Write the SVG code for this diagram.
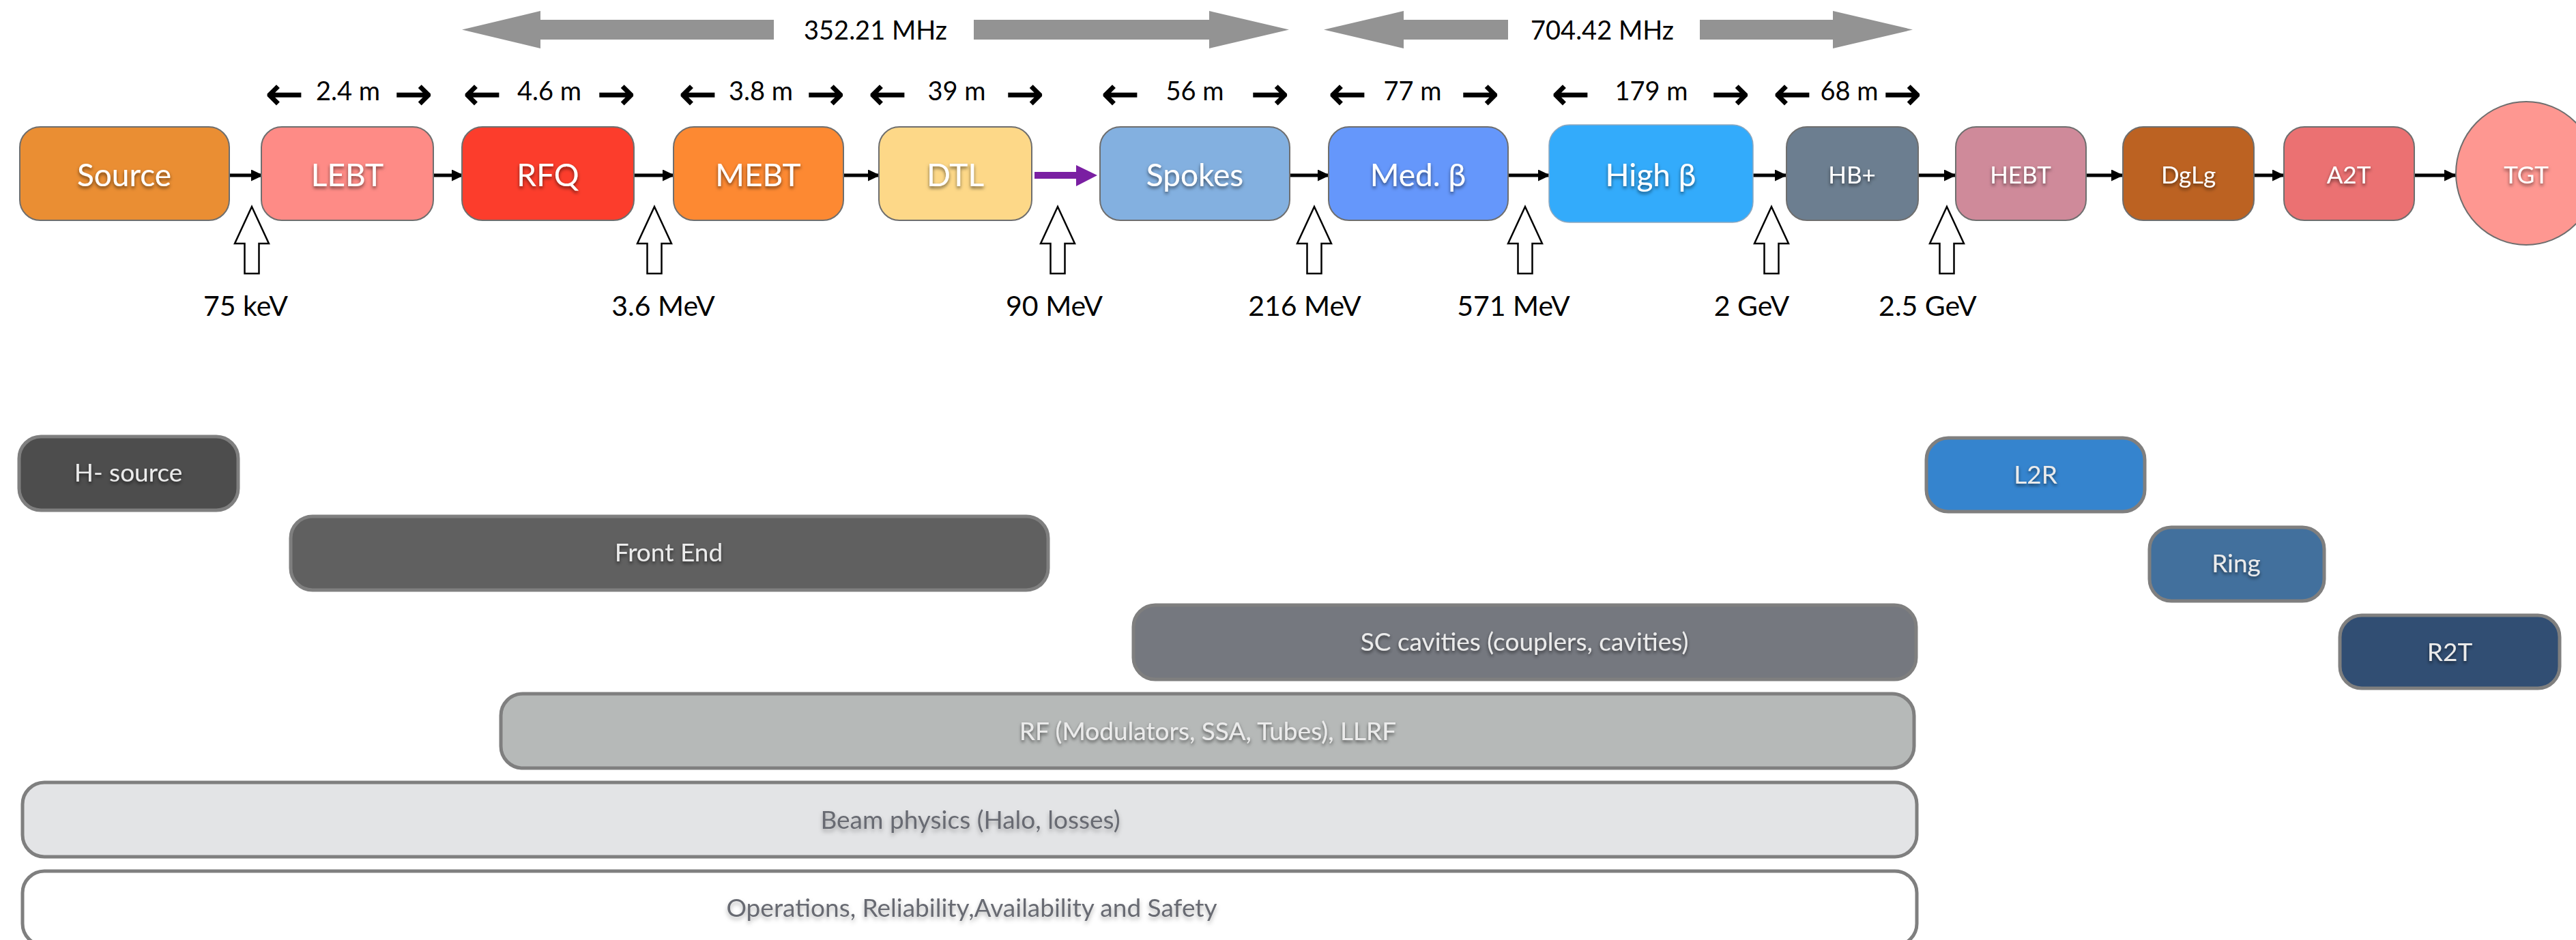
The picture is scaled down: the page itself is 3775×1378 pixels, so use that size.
<svg xmlns="http://www.w3.org/2000/svg" width="3775" height="1378" viewBox="0 0 3775 1378">
  <defs>
    <filter id="shadow" x="-20%" y="-40%" width="140%" height="190%">
      <feGaussianBlur in="SourceAlpha" stdDeviation="2.5"/>
      <feOffset dx="0" dy="3" result="off"/>
      <feFlood flood-color="#000" flood-opacity="0.55"/>
      <feComposite in2="off" operator="in"/>
      <feMerge><feMergeNode/><feMergeNode in="SourceGraphic"/></feMerge>
    </filter>
    <filter id="softshadow" x="-20%" y="-40%" width="140%" height="190%">
      <feGaussianBlur in="SourceAlpha" stdDeviation="3"/>
      <feOffset dx="0" dy="4" result="off"/>
      <feFlood flood-color="#000" flood-opacity="0.3"/>
      <feComposite in2="off" operator="in"/>
      <feMerge><feMergeNode/><feMergeNode in="SourceGraphic"/></feMerge>
    </filter>
    <marker id="head" markerUnits="userSpaceOnUse" markerWidth="20" markerHeight="18" refX="18" refY="8.5" orient="auto">
      <path d="M0,0 L18,8.5 L0,17 Z" fill="#000"/>
    </marker>
  </defs>
  <style>
    text { font-family: Lato, "Liberation Sans", sans-serif; }
    .node { stroke: #6e6e6e; stroke-width: 2; }
    .lbl { fill: #fff; font-size: 46px; text-anchor: middle; filter: url(#shadow); }
    .lbl-s { fill: #fff; font-size: 35px; text-anchor: middle; filter: url(#shadow); }
    .band { stroke: #7f7f7f; stroke-width: 5; }
    .band-lbl { fill: #ebebeb; font-size: 37px; text-anchor: middle; filter: url(#shadow); }
    .band-lbl-dark { fill: #686b72; font-size: 37px; text-anchor: middle; filter: url(#softshadow); }
    .freq { fill: #939393; }
    .freq-lbl { fill: #000; font-size: 38px; text-anchor: middle; }
    .dim { fill: #000; font-size: 38px; text-anchor: middle; }
    .dim-arrow { font-family: "DejaVu Sans", sans-serif; font-size: 66px; stroke: #000; stroke-width: 1.5; }
    .energy { fill: #000; font-size: 41px; text-anchor: middle; }
    .inject { fill: #fff; stroke: #000; stroke-width: 2.5; }
    .link { stroke: #000; stroke-width: 5; fill: none; marker-end: url(#head); }
  </style>

  <rect width="3775" height="1378" fill="#fff"/>

  <!-- RF frequency spans -->
  <g id="freq-352">
    <polygon class="freq" points="677,43.5 792,16 792,29 1134,29 1134,58 792,58 792,71"/>
    <polygon class="freq" points="1427,29 1772,29 1772,16 1889,43.5 1772,71 1772,58 1427,58"/>
    <text class="freq-lbl" x="1283" y="58">352.21 MHz</text>
  </g>
  <g id="freq-704">
    <polygon class="freq" points="1940,43.5 2057,16 2057,29 2210,29 2210,58 2057,58 2057,71"/>
    <polygon class="freq" points="2491,29 2686,29 2686,16 2803,43.5 2686,71 2686,58 2491,58"/>
    <text class="freq-lbl" x="2348" y="58">704.42 MHz</text>
  </g>

  <!-- section lengths -->
  <g id="lengths">
    <text class="dim"><tspan class="dim-arrow" x="417" y="160">←</tspan><tspan x="510" y="147">2.4 m</tspan><tspan class="dim-arrow" x="606" y="160">→</tspan></text>
    <text class="dim"><tspan class="dim-arrow" x="707" y="160">←</tspan><tspan x="805" y="147">4.6 m</tspan><tspan class="dim-arrow" x="903" y="160">→</tspan></text>
    <text class="dim"><tspan class="dim-arrow" x="1023" y="160">←</tspan><tspan x="1115" y="147">3.8 m</tspan><tspan class="dim-arrow" x="1210" y="160">→</tspan></text>
    <text class="dim"><tspan class="dim-arrow" x="1301" y="160">←</tspan><tspan x="1402" y="147">39 m</tspan><tspan class="dim-arrow" x="1502" y="160">→</tspan></text>
    <text class="dim"><tspan class="dim-arrow" x="1642" y="160">←</tspan><tspan x="1751" y="147">56 m</tspan><tspan class="dim-arrow" x="1861" y="160">→</tspan></text>
    <text class="dim"><tspan class="dim-arrow" x="1975" y="160">←</tspan><tspan x="2070" y="147">77 m</tspan><tspan class="dim-arrow" x="2169" y="160">→</tspan></text>
    <text class="dim"><tspan class="dim-arrow" x="2302" y="160">←</tspan><tspan x="2420" y="147">179 m</tspan><tspan class="dim-arrow" x="2536" y="160">→</tspan></text>
    <text class="dim"><tspan class="dim-arrow" x="2627" y="160">←</tspan><tspan x="2710" y="147">68 m</tspan><tspan class="dim-arrow" x="2788" y="160">→</tspan></text>
  </g>

  <!-- beam line connectors -->
  <g id="connectors">
    <line class="link" x1="332" y1="257" x2="386" y2="257"/>
    <line class="link" x1="635" y1="257" x2="680" y2="257"/>
    <line class="link" x1="929" y1="257" x2="989" y2="257"/>
    <line class="link" x1="1236" y1="257" x2="1290" y2="257"/>
    <polygon points="1516,252 1577,252 1577,242 1608,257 1577,273 1577,262 1516,262" fill="#7a1fa2"/>
    <line class="link" x1="1890" y1="257" x2="1949" y2="257"/>
    <line class="link" x1="2210" y1="257" x2="2272" y2="257"/>
    <line class="link" x1="2565" y1="257" x2="2619" y2="257"/>
    <line class="link" x1="2811" y1="257" x2="2867" y2="257"/>
    <line class="link" x1="3057" y1="257" x2="3112" y2="257"/>
    <line class="link" x1="3303" y1="257" x2="3348" y2="257"/>
    <line class="link" x1="3538" y1="257" x2="3600" y2="257"/>
  </g>

  <!-- beam line sections -->
  <g id="node-source"><rect class="node" x="29" y="186" width="307" height="137" rx="30" fill="#ea8e33"/><text class="lbl" x="182" y="273">Source</text></g>
  <g id="node-lebt"><rect class="node" x="383" y="186" width="252" height="137" rx="30" fill="#fe8b86"/><text class="lbl" x="509" y="273">LEBT</text></g>
  <g id="node-rfq"><rect class="node" x="677" y="186" width="252" height="137" rx="30" fill="#fc3d2c"/><text class="lbl" x="803" y="273">RFQ</text></g>
  <g id="node-mebt"><rect class="node" x="987" y="186" width="249" height="137" rx="30" fill="#fd8932"/><text class="lbl" x="1111" y="273">MEBT</text></g>
  <g id="node-dtl"><rect class="node" x="1288" y="186" width="224" height="137" rx="30" fill="#fdd888"/><text class="lbl" x="1400" y="273">DTL</text></g>
  <g id="node-spokes"><rect class="node" x="1612" y="186" width="278" height="137" rx="30" fill="#83b0e0"/><text class="lbl" x="1751" y="273">Spokes</text></g>
  <g id="node-medbeta"><rect class="node" x="1947" y="186" width="263" height="137" rx="30" fill="#6597fb"/><text class="lbl" x="2078" y="273">Med. β</text></g>
  <g id="node-highbeta"><rect x="2270" y="183" width="299" height="143" rx="30" fill="#33abfb" stroke="#8fa8bf" stroke-width="1.5"/><text class="lbl" x="2419" y="273">High β</text></g>
  <g id="node-hbplus"><rect class="node" x="2618" y="186" width="193" height="137" rx="30" fill="#6c7e90"/><text class="lbl-s" x="2714" y="269">HB+</text></g>
  <g id="node-hebt"><rect class="node" x="2866" y="186" width="191" height="137" rx="30" fill="#cf8a9a"/><text class="lbl-s" x="2961" y="269">HEBT</text></g>
  <g id="node-dglg"><rect class="node" x="3111" y="186" width="192" height="137" rx="30" fill="#bc6222"/><text class="lbl-s" x="3207" y="269">DgLg</text></g>
  <g id="node-a2t"><rect class="node" x="3347" y="186" width="191" height="137" rx="30" fill="#eb7172"/><text class="lbl-s" x="3442" y="269">A2T</text></g>
  <g id="node-tgt"><ellipse class="node" cx="3702" cy="254" rx="103" ry="105" fill="#fe9791"/><text class="lbl-s" x="3702" y="269">TGT</text></g>

  <!-- beam energy markers -->
  <g id="energies">
    <g transform="translate(369,0)"><path class="inject" d="M0,303 L25,357 L10.5,357 L10.5,401 L-10.5,401 L-10.5,357 L-25,357 Z"/></g>
    <g transform="translate(959,0)"><path class="inject" d="M0,303 L25,357 L10.5,357 L10.5,401 L-10.5,401 L-10.5,357 L-25,357 Z"/></g>
    <g transform="translate(1550,0)"><path class="inject" d="M0,303 L25,357 L10.5,357 L10.5,401 L-10.5,401 L-10.5,357 L-25,357 Z"/></g>
    <g transform="translate(1926,0)"><path class="inject" d="M0,303 L25,357 L10.5,357 L10.5,401 L-10.5,401 L-10.5,357 L-25,357 Z"/></g>
    <g transform="translate(2235,0)"><path class="inject" d="M0,303 L25,357 L10.5,357 L10.5,401 L-10.5,401 L-10.5,357 L-25,357 Z"/></g>
    <g transform="translate(2596,0)"><path class="inject" d="M0,303 L25,357 L10.5,357 L10.5,401 L-10.5,401 L-10.5,357 L-25,357 Z"/></g>
    <g transform="translate(2853,0)"><path class="inject" d="M0,303 L25,357 L10.5,357 L10.5,401 L-10.5,401 L-10.5,357 L-25,357 Z"/></g>
    <text class="energy" x="360" y="463">75 keV</text>
    <text class="energy" x="972" y="463">3.6 MeV</text>
    <text class="energy" x="1545" y="463">90 MeV</text>
    <text class="energy" x="1912" y="463">216 MeV</text>
    <text class="energy" x="2218" y="463">571 MeV</text>
    <text class="energy" x="2567" y="463">2 GeV</text>
    <text class="energy" x="2825" y="463">2.5 GeV</text>
  </g>

  <!-- work packages -->
  <g id="wp-hsource"><rect class="band" x="28" y="640" width="321" height="108" rx="32" fill="#4d4d4d"/><text class="band-lbl" x="188" y="706">H- source</text></g>
  <g id="wp-frontend"><rect class="band" x="426" y="757" width="1110" height="108" rx="32" fill="#606060"/><text class="band-lbl" x="980" y="823">Front End</text></g>
  <g id="wp-l2r"><rect class="band" x="2823" y="642" width="320" height="108" rx="32" fill="#3584ce"/><text class="band-lbl" x="2983" y="709">L2R</text></g>
  <g id="wp-ring"><rect class="band" x="3150" y="773" width="256" height="108" rx="32" fill="#42709d"/><text class="band-lbl" x="3277" y="839">Ring</text></g>
  <g id="wp-sc"><rect class="band" x="1661" y="887" width="1147" height="109" rx="32" fill="#75787f"/><text class="band-lbl" x="2234" y="954">SC cavities (couplers, cavities)</text></g>
  <g id="wp-r2t"><rect class="band" x="3429" y="902" width="322" height="107" rx="32" fill="#314e73"/><text class="band-lbl" x="3590" y="969">R2T</text></g>
  <g id="wp-rf"><rect class="band" x="734" y="1017" width="2071" height="109" rx="32" fill="#b6b9b8"/><text class="band-lbl" x="1770" y="1085">RF (Modulators, SSA, Tubes), LLRF</text></g>
  <g id="wp-beam"><rect class="band" x="33" y="1147" width="2776" height="109" rx="32" fill="#e3e4e6"/><text class="band-lbl-dark" x="1422" y="1215">Beam physics (Halo, losses)</text></g>
  <g id="wp-ops"><rect class="band" x="33" y="1277" width="2776" height="109" rx="32" fill="#ffffff"/><text class="band-lbl-dark" x="1424" y="1344">Operations, Reliability,Availability and Safety</text></g>
</svg>
